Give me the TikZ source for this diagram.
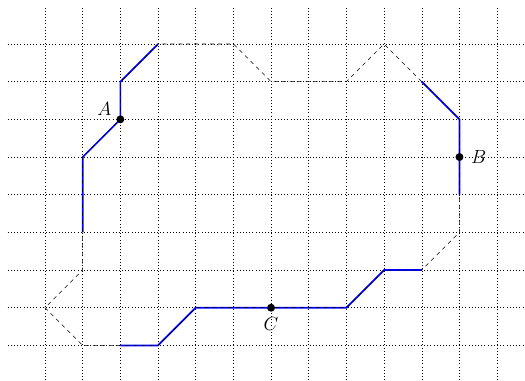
\documentclass[tikz,border=0pt]{standalone}
\usetikzlibrary{positioning}
\tikzset{
  gridline/.style={dotted},
  hull/.style={dashed},
  seen/.style={blue,line width=1.3pt},
  pt/.style={circle,fill,inner sep=0pt,minimum size=6pt}
}
\begin{document}
\begin{tikzpicture}[font=\Large]
  \useasboundingbox (-1.195,-0.92) rectangle (12.74,9.168);
  \foreach \x in {0,...,12} \draw[gridline] (\x,-1) -- (\x,8.99);
  \foreach \y in {0,...,8} \draw[gridline] (-0.99,\y) -- (12.7,\y);
  % blue pieces
  \draw[seen] (1,3) -- (1,5) -- (2,6) -- (2,7) -- (3,8);
  \draw[seen] (10,7) -- (11,6) -- (11,4);
  \draw[seen] (10,2) -- (9,2) -- (8,1) -- (4,1) -- (3,0) -- (2,0);
  % whole path
  \draw[hull] (2,6) -- (2,7) -- (3,8) -- (5,8) -- (6,7) -- (8,7) -- (9,8)
    -- (11,6) -- (11,3) -- (10,2) -- (9,2) -- (8,1) -- (4,1) -- (3,0) -- (1,0)
    -- (0,1) -- (1,2) -- (1,5) -- cycle;
  \node[pt] (A) at (2,6) {};
  \node[pt] (B) at (11,5) {};
  \node[pt] (C) at (6,1) {};
  \node[above left=-3pt and 1pt of A] (lA) {$A$};
  \node[right=2pt of B] (lB) {$B$};
  \node[below=1pt of C] (lC) {$C$};
\end{tikzpicture}
\end{document}
